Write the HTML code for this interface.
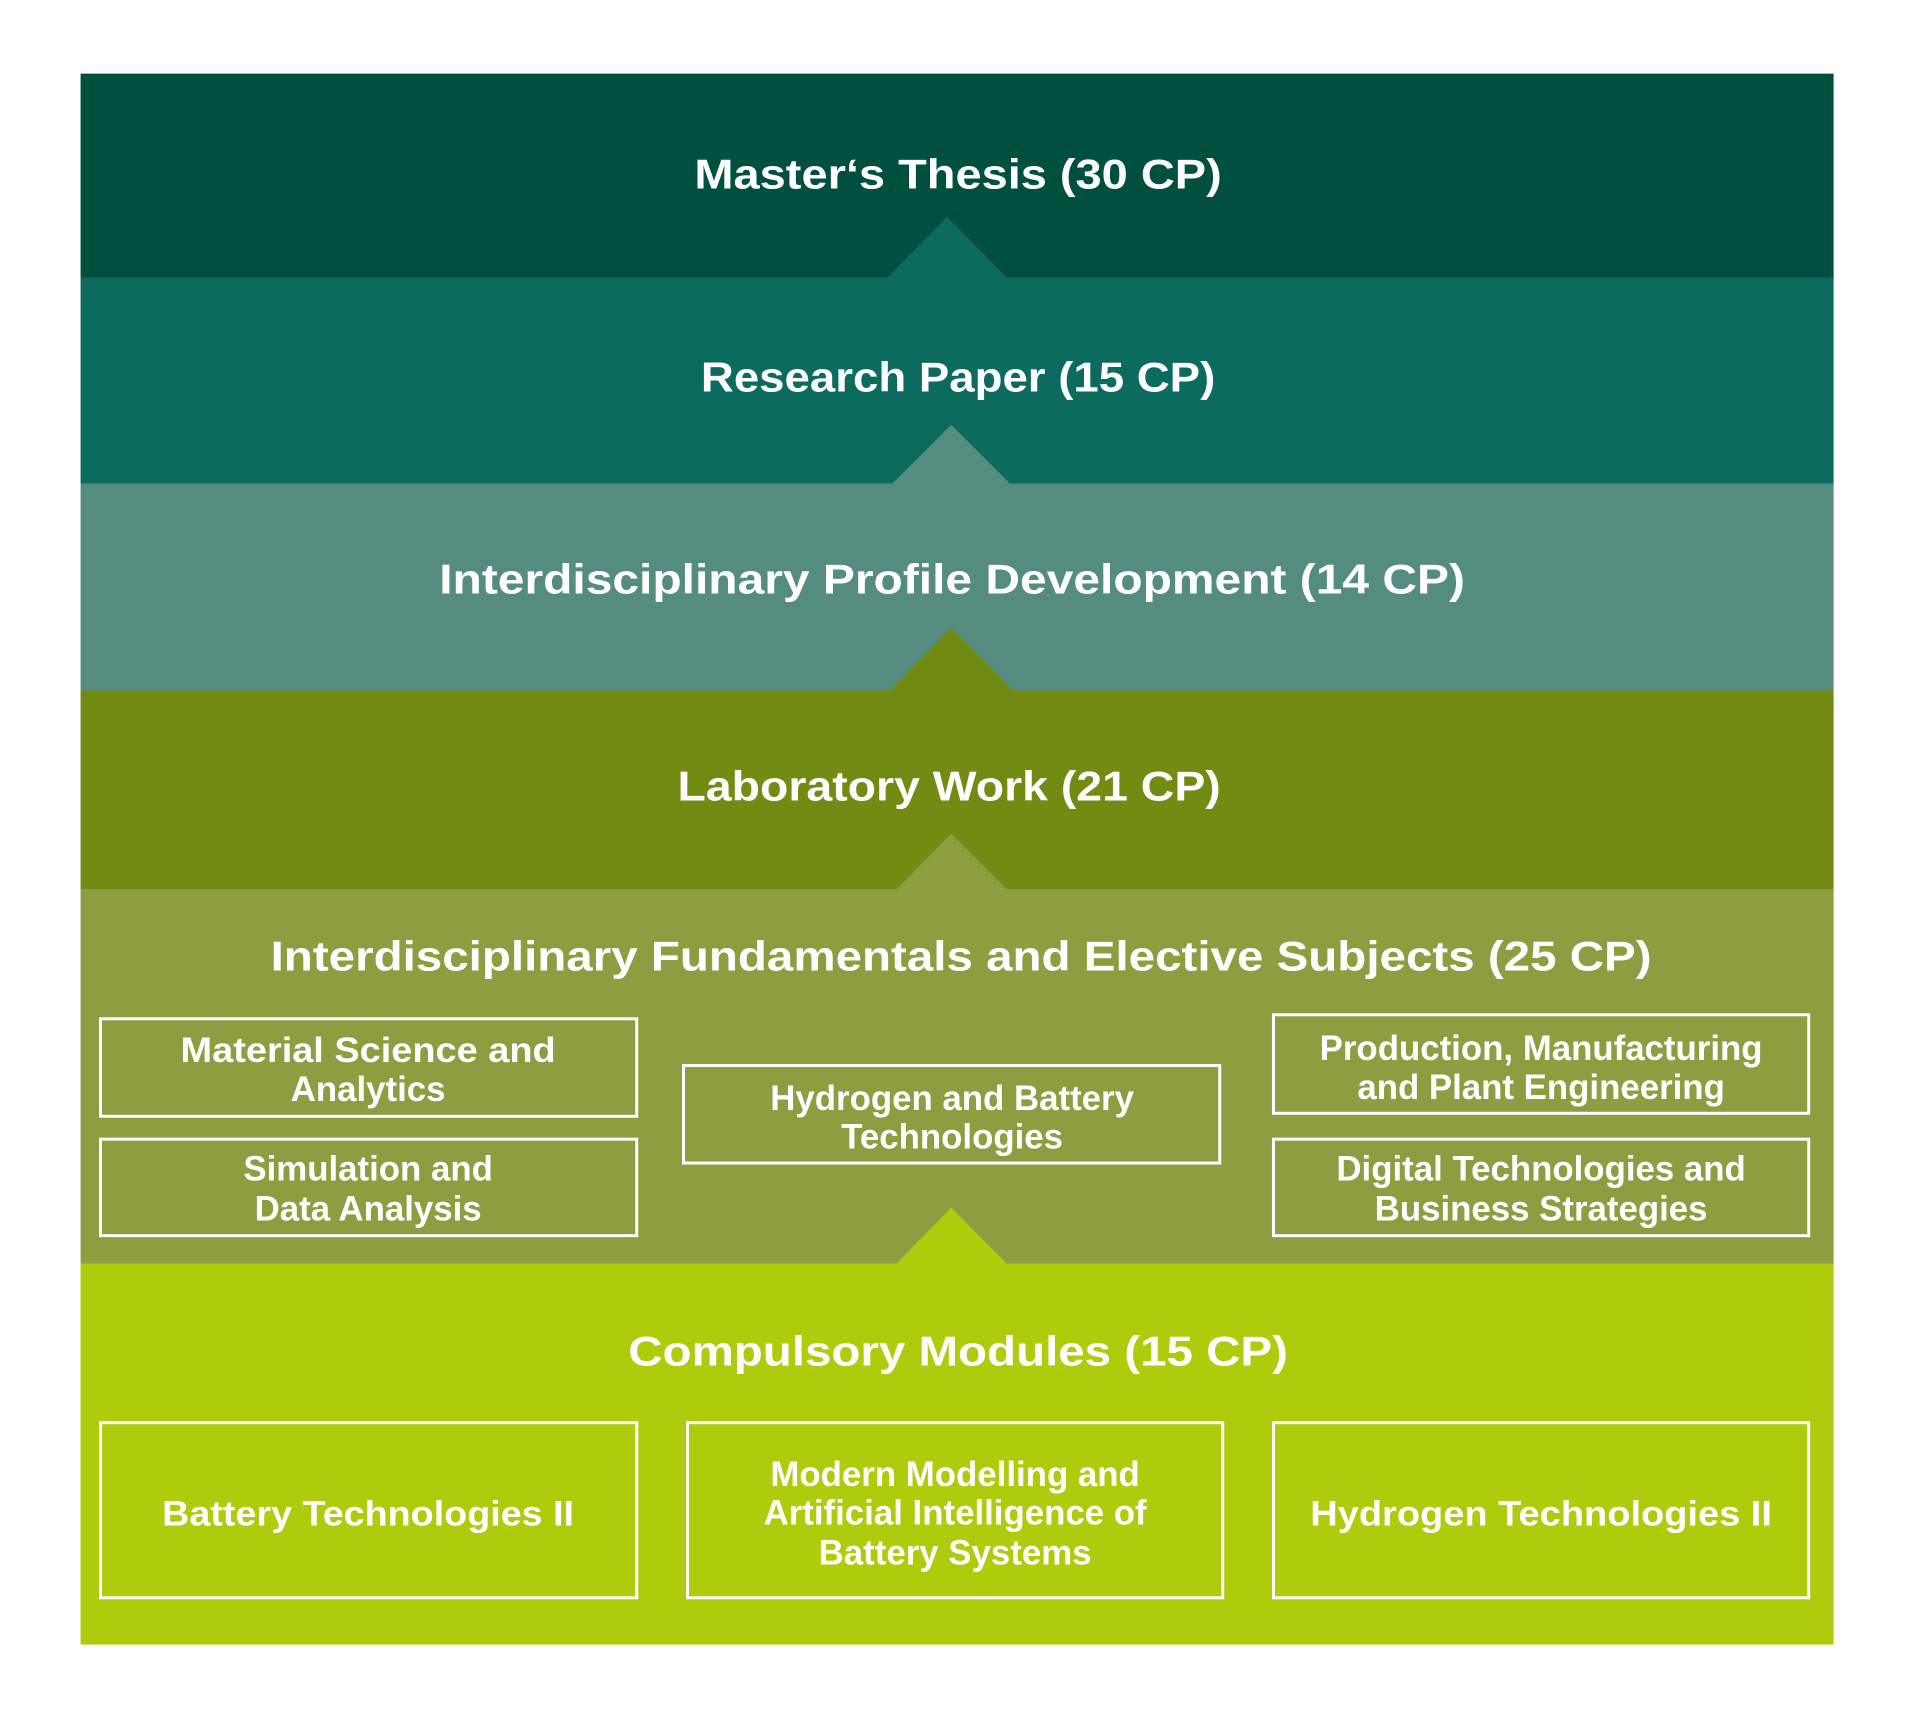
<!DOCTYPE html>
<html><head><meta charset="utf-8"><style>
html,body{margin:0;padding:0;background:#fff;}
svg{display:block;}
text{font-family:"Liberation Sans",sans-serif;font-weight:bold;fill:#fff;text-anchor:middle;dominant-baseline:central;}
.t{font-size:42px;}
.b{font-size:35px;}
rect.bx{fill:none;stroke:#fff;stroke-width:3;}
</style></head><body>
<svg width="1920" height="1713" viewBox="0 0 1920 1713">
<g transform="scale(0.9949)">
<rect x="81" y="74" width="1762" height="207" fill="#01503f"/>
<rect x="81" y="279" width="1762" height="207" fill="#0a6b5e"/>
<rect x="81" y="486" width="1762" height="208" fill="#548c80"/>
<rect x="81" y="694" width="1762" height="200" fill="#728b12"/>
<rect x="81" y="894" width="1762" height="376" fill="#8b9f41"/>
<rect x="81" y="1270" width="1762" height="383" fill="#afcb0c"/>
<polygon points="891,280 952,218 1013,280" fill="#0a6b5e"/>
<polygon points="896,487 956,427 1016,487" fill="#548c80"/>
<polygon points="894,695 956,631 1019,695" fill="#728b12"/>
<polygon points="900,895 956,838 1013,895" fill="#8b9f41"/>
<polygon points="900,1271 956,1214 1013,1271" fill="#afcb0c"/>

<text class="t" x="963" y="175" textLength="530" lengthAdjust="spacingAndGlyphs">Master‘s Thesis (30 CP)</text>
<text class="t" x="963" y="379" textLength="517" lengthAdjust="spacingAndGlyphs">Research Paper (15 CP)</text>
<text class="t" x="957" y="582" textLength="1031" lengthAdjust="spacingAndGlyphs">Interdisciplinary Profile Development (14 CP)</text>
<text class="t" x="954" y="790" textLength="546" lengthAdjust="spacingAndGlyphs">Laboratory Work (21 CP)</text>
<text class="t" x="966" y="961" textLength="1388" lengthAdjust="spacingAndGlyphs">Interdisciplinary Fundamentals and Elective Subjects (25 CP)</text>
<text class="t" x="963" y="1358" textLength="663" lengthAdjust="spacingAndGlyphs">Compulsory Modules (15 CP)</text>

<rect class="bx" x="101" y="1024" width="539" height="98"/>
<text class="b" x="370" y="1056" textLength="377" lengthAdjust="spacingAndGlyphs">Material Science and</text>
<text class="b" x="370" y="1095">Analytics</text>
<rect class="bx" x="101" y="1145" width="539" height="97"/>
<text class="b" x="370" y="1175">Simulation and</text>
<text class="b" x="370" y="1215">Data Analysis</text>
<rect class="bx" x="687" y="1071" width="539" height="98"/>
<text class="b" x="957" y="1104">Hydrogen and Battery</text>
<text class="b" x="957" y="1143">Technologies</text>
<rect class="bx" x="1280" y="1020" width="538" height="99"/>
<text class="b" x="1549" y="1054">Production, Manufacturing</text>
<text class="b" x="1549" y="1093">and Plant Engineering</text>
<rect class="bx" x="1280" y="1145" width="538" height="97"/>
<text class="b" x="1549" y="1175">Digital Technologies and</text>
<text class="b" x="1549" y="1215">Business Strategies</text>

<rect class="bx" x="101" y="1430" width="539" height="176"/>
<text class="b" x="370" y="1522" textLength="414" lengthAdjust="spacingAndGlyphs">Battery Technologies II</text>
<rect class="bx" x="691" y="1430" width="538" height="176"/>
<text class="b" x="960" y="1482">Modern Modelling and</text>
<text class="b" x="960" y="1521">Artificial Intelligence of</text>
<text class="b" x="960" y="1561">Battery Systems</text>
<rect class="bx" x="1280" y="1430" width="538" height="176"/>
<text class="b" x="1549" y="1522" textLength="464" lengthAdjust="spacingAndGlyphs">Hydrogen Technologies II</text>
</g>
</svg>
</body></html>
